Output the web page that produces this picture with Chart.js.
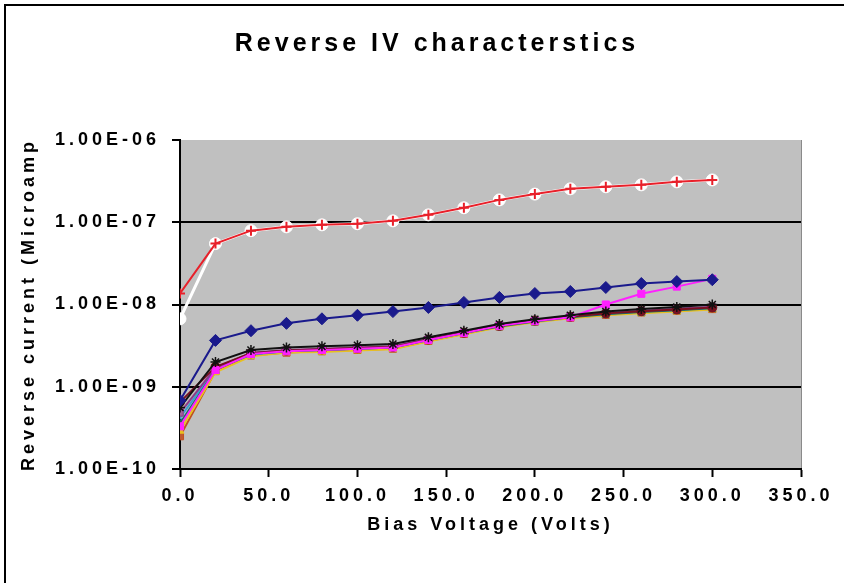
<!DOCTYPE html>
<html>
<head>
<meta charset="utf-8">
<title>Reverse IV characterstics</title>
<script src="https://cdn.jsdelivr.net/npm/chart.js@4.4.0/dist/chart.umd.min.js"></script>
<style>
  html, body { margin: 0; padding: 0; background: #ffffff; }
  canvas { display: block; }
</style>
</head>
<body>
<canvas id="iv" width="844" height="583"></canvas>
<script>
// Bias voltage steps (Volts)
const voltage = [0, 20, 40, 60, 80, 100, 120, 140, 160, 180, 200, 220, 240, 260, 280, 300];

// Reverse current per device
const devRed    = [1.36e-8, 5.5e-8, 7.9e-8, 8.8e-8, 9.3e-8, 9.6e-8, 1.04e-7, 1.23e-7, 1.5e-7, 1.87e-7, 2.2e-7, 2.55e-7, 2.7e-7, 2.85e-7, 3.1e-7, 3.27e-7];
const devWhite  = [6.7e-9, 5.5e-8, 7.9e-8, 8.8e-8, 9.3e-8, 9.6e-8, 1.04e-7, 1.23e-7, 1.5e-7, 1.87e-7, 2.2e-7, 2.55e-7, 2.7e-7, 2.85e-7, 3.1e-7, 3.27e-7];
const devNavy   = [6.8e-10, 3.66e-9, 4.8e-9, 5.9e-9, 6.7e-9, 7.4e-9, 8.2e-9, 9.2e-9, 1.06e-8, 1.22e-8, 1.36e-8, 1.44e-8, 1.61e-8, 1.8e-8, 1.9e-8, 2.0e-8];
const devBlack  = [5.6e-10, 2.0e-9, 2.8e-9, 3.0e-9, 3.1e-9, 3.2e-9, 3.3e-9, 4.0e-9, 4.8e-9, 5.8e-9, 6.6e-9, 7.4e-9, 8.2e-9, 8.8e-9, 9.3e-9, 1.0e-8];
const devMagenta= [3.3e-10, 1.6e-9, 2.5e-9, 2.7e-9, 2.8e-9, 2.9e-9, 3.0e-9, 3.7e-9, 4.5e-9, 5.5e-9, 6.3e-9, 7.0e-9, 1.0e-8, 1.35e-8, 1.65e-8, 2.05e-8];
const devYellow = [2.9e-10, 1.5e-9, 2.35e-9, 2.6e-9, 2.65e-9, 2.75e-9, 2.85e-9, 3.55e-9, 4.35e-9, 5.3e-9, 6.1e-9, 6.8e-9, 7.4e-9, 7.8e-9, 8.2e-9, 8.7e-9];
const devCyan   = [4.2e-10, 1.65e-9, 2.45e-9, 2.7e-9, 2.8e-9, 2.9e-9, 3.0e-9, 3.7e-9, 4.5e-9, 5.5e-9, 6.3e-9, 7.1e-9, 7.7e-9, 8.2e-9, 8.6e-9, 9.1e-9];
const devPurple = [4.8e-10, 1.7e-9, 2.6e-9, 2.8e-9, 2.9e-9, 3.0e-9, 3.1e-9, 3.8e-9, 4.6e-9, 5.6e-9, 6.4e-9, 7.2e-9, 7.9e-9, 8.4e-9, 8.9e-9, 9.4e-9];
const devMaroon = [6.5e-10, 1.75e-9, 2.55e-9, 2.75e-9, 2.85e-9, 2.95e-9, 3.05e-9, 3.75e-9, 4.55e-9, 5.5e-9, 6.4e-9, 7.1e-9, 7.8e-9, 8.3e-9, 8.7e-9, 9.2e-9];
const devTeal   = [3.6e-10, 1.6e-9, 2.5e-9, 2.7e-9, 2.8e-9, 2.9e-9, 3.0e-9, 3.7e-9, 4.5e-9, 5.4e-9, 6.2e-9, 7.0e-9, 7.6e-9, 8.1e-9, 8.5e-9, 9.0e-9];
const devBrown  = [2.5e-10, 1.55e-9, 2.4e-9, 2.6e-9, 2.7e-9, 2.8e-9, 2.9e-9, 3.6e-9, 4.4e-9, 5.4e-9, 6.2e-9, 6.9e-9, 7.5e-9, 8.0e-9, 8.4e-9, 8.8e-9];

// Axis ticks
const yTickValues = [1e-10, 1e-9, 1e-8, 1e-7, 1e-6];
const yTickLabels = ['1.00E-10', '1.00E-09', '1.00E-08', '1.00E-07', '1.00E-06'];
const xTickValues = [0, 50, 100, 150, 200, 250, 300, 350];

const FONT = "'Liberation Sans', Arial, Helvetica, sans-serif";

const pts = arr => voltage.map((v, i) => ({ x: v, y: arr[i] }));

function series(data, color, style, radius, fill, width) {
  return {
    data: pts(data),
    borderColor: color,
    backgroundColor: fill || color,
    pointBorderColor: color,
    pointBackgroundColor: fill || color,
    pointStyle: style,
    pointRadius: radius,
    pointBorderWidth: width || 1,
    borderWidth: 2,
    tension: 0
  };
}

// Earlier datasets are painted on top
const datasets = [
  series(devRed, '#e8202a', 'cross', 5, '#e8202a', 2),
  Object.assign(series(devWhite, '#ffffff', 'circle', 6, '#ffffff', 1), { borderWidth: 3 }),
  series(devNavy, '#1a1a8c', 'rectRot', 6, '#1a1a8c'),
  series(devBlack, '#111111', 'star', 5, '#111111', 1.5),
  series(devMagenta, '#ff20ff', 'rect', 5, '#ff20ff'),
  series(devMaroon, '#7a1020', 'circle', 4.5, '#7a1020'),
  series(devPurple, '#8a3a8a', 'rect', 4.5, '#a0609a'),
  series(devTeal, '#1a6a6a', 'rect', 4.5, '#2a5a4a'),
  series(devCyan, '#3aa0d0', 'crossRot', 4.5, '#3aa0d0', 1.5),
  series(devYellow, '#e8c020', 'triangle', 4.5, '#e8c020'),
  series(devBrown, '#c05020', 'rect', 5, '#c05a30')
];

const panelPlugin = {
  id: 'panel',
  afterLayout(chart) {
    // centre the heading over the framed sheet rather than the full canvas
    const t = chart.titleBlock;
    if (t) {
      t.left = 30;
      t.right = chart.width;
      t.width = t.right - t.left;
    }
  },
  beforeDraw(chart) {
    const ctx = chart.ctx;
    const a = chart.chartArea;
    ctx.save();
    ctx.fillStyle = '#ffffff';
    ctx.fillRect(0, 0, chart.width, chart.height);
    // plot area
    ctx.fillStyle = '#c0c0c0';
    ctx.fillRect(a.left, a.top, a.right - a.left, a.bottom - a.top);
    ctx.strokeStyle = '#8a8a8a';
    ctx.lineWidth = 1;
    ctx.beginPath();
    ctx.moveTo(a.right + 0.5, a.top);
    ctx.lineTo(a.right + 0.5, a.bottom);
    ctx.stroke();
    // outer frame
    ctx.strokeStyle = '#000000';
    ctx.lineWidth = 2;
    ctx.beginPath();
    ctx.moveTo(chart.width, 5);
    ctx.lineTo(5, 5);
    ctx.lineTo(5, chart.height);
    ctx.stroke();
    ctx.restore();
    // wide-set lettering for all chart text
    ctx.letterSpacing = '4px';
  }
};

new Chart(document.getElementById('iv'), {
  type: 'line',
  data: { datasets },
  plugins: [panelPlugin],
  options: {
    responsive: false,
    animation: false,
    devicePixelRatio: 1,
    layout: { padding: { top: 0, left: 0, right: 43, bottom: 0 } },
    plugins: {
      legend: { display: false },
      tooltip: { enabled: false },
      title: {
        display: true,
        text: 'Reverse IV characterstics',
        color: '#000000',
        font: { family: FONT, size: 25, weight: 'bold' },
        padding: { top: 29, bottom: 81 }
      }
    },
    scales: {
      x: {
        type: 'linear',
        min: 0,
        max: 350,
        afterFit(scale) { scale.height = 114; },
        afterBuildTicks(scale) { scale.ticks = xTickValues.map(v => ({ value: v })); },
        ticks: {
          color: '#000000',
          font: { family: FONT, size: 18, weight: 'bold' },
          padding: 8,
          maxRotation: 0,
          autoSkip: false,
          callback: v => Number(v).toFixed(1)
        },
        grid: {
          drawOnChartArea: false,
          drawTicks: true,
          tickLength: 8,
          tickColor: '#000000',
          tickWidth: 2
        },
        border: { display: true, color: '#000000', width: 2 },
        title: {
          display: true,
          text: 'Bias Voltage (Volts)',
          color: '#000000',
          font: { family: FONT, size: 18, weight: 'bold' },
          padding: { top: 0, bottom: 47 }
        }
      },
      y: {
        type: 'logarithmic',
        min: 1e-10,
        max: 1e-6,
        afterFit(scale) { scale.width = 180; },
        afterBuildTicks(scale) { scale.ticks = yTickValues.map(v => ({ value: v })); },
        ticks: {
          color: '#000000',
          font: { family: FONT, size: 18, weight: 'bold' },
          padding: 12,
          autoSkip: false,
          callback: (v, i) => yTickLabels[i]
        },
        grid: {
          color: c => (c.tick && c.tick.value >= 1e-6) ? 'rgba(0,0,0,0)' : '#000000',
          lineWidth: 2,
          drawTicks: true,
          tickLength: 8,
          tickColor: '#000000',
          tickWidth: 2
        },
        border: { display: true, color: '#000000', width: 2 },
        title: {
          display: true,
          text: 'Reverse current (Microamp',
          color: '#000000',
          font: { family: FONT, size: 18, weight: 'bold' },
          padding: { top: 18, bottom: 0 }
        }
      }
    }
  }
});
</script>
</body>
</html>
